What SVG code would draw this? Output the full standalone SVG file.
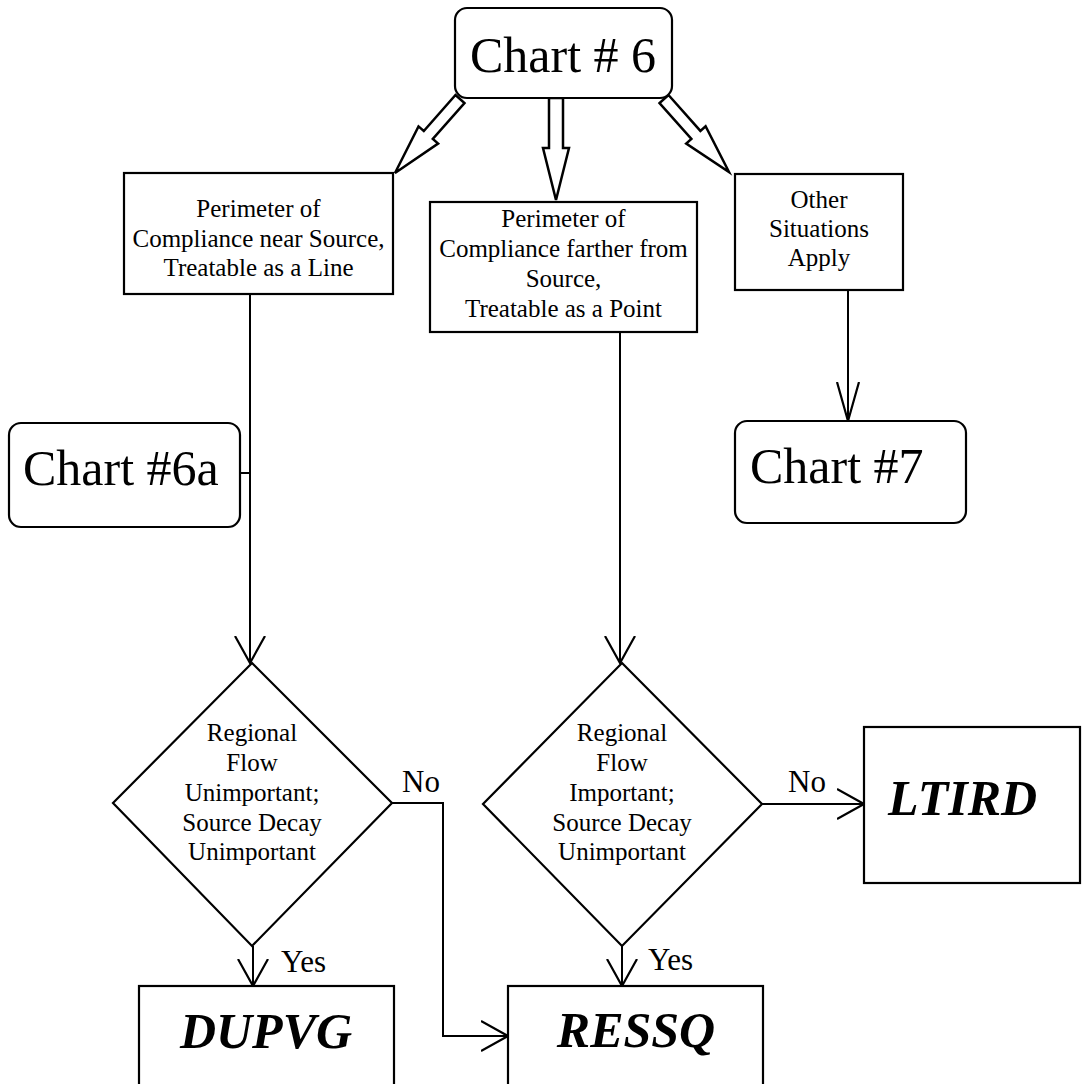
<svg xmlns="http://www.w3.org/2000/svg" width="1083" height="1084" viewBox="0 0 1083 1084">
<defs>
<style>
.box{fill:#fff;stroke:#000;stroke-width:2.2}
.blk{fill:#fff;stroke:#000;stroke-width:2.5;stroke-linejoin:miter}
.ln{fill:none;stroke:#000;stroke-width:2}
.t{font-family:"Liberation Serif","Times New Roman",serif;fill:#000}
.s25{font-size:25px;text-anchor:middle}
.s50{font-size:50px}
.s32{font-size:31px}
.bi{font-size:50px;font-weight:bold;font-style:italic}
</style>
<marker id="ah" markerUnits="userSpaceOnUse" viewBox="0 0 28 32" markerWidth="28" markerHeight="32" refX="27" refY="16" orient="auto">
<path d="M0,1 L27,16 L0,31" fill="none" stroke="#000" stroke-width="2.2"/>
</marker>
<marker id="ahn" markerUnits="userSpaceOnUse" viewBox="0 0 40 24" markerWidth="40" markerHeight="24" refX="39" refY="12" orient="auto">
<path d="M0,1 L39,12 L0,23" fill="none" stroke="#000" stroke-width="2.2"/>
</marker>
</defs>
<rect width="1083" height="1084" fill="#fff"/>

<g id="connectors">
<polygon class="blk" points="455.5,95 464.5,103 432.8,139 438.1,143.6 395,173 418.5,126.4 423.8,131"/>
<polygon class="blk" points="549,98 563,98 563,148 569,148 556,200 543,148 549,148"/>
<polygon class="blk" points="668.5,95 700.4,130.9 705.6,126.3 729,172 686.2,143.5 691.4,138.9 659.5,103"/>
<line class="ln" x1="250" y1="294" x2="250" y2="663" marker-end="url(#ah)"/>
<line class="ln" x1="240" y1="473" x2="250" y2="473"/>
<line class="ln" x1="620" y1="332" x2="620" y2="663" marker-end="url(#ah)"/>
<line class="ln" x1="848" y1="290" x2="848" y2="421" marker-end="url(#ahn)"/>
<line class="ln" x1="253" y1="946" x2="253" y2="986" marker-end="url(#ah)"/>
<line class="ln" x1="622" y1="946" x2="622" y2="986" marker-end="url(#ah)"/>
<polyline class="ln" points="392,803 443,803 443,1036 508,1036" marker-end="url(#ah)"/>
<line class="ln" x1="762" y1="804" x2="864" y2="804" marker-end="url(#ah)"/>
<text class="t s32" x="402" y="792">No</text>
<text class="t s32" x="788" y="792">No</text>
<text class="t s32" x="281" y="972">Yes</text>
<text class="t s32" x="648" y="970">Yes</text>
</g>

<g id="chart6">
<rect class="box" x="455" y="8" width="217" height="90" rx="12"/>
<text class="t s50" x="563" y="72" text-anchor="middle">Chart # 6</text>
</g>

<g id="line-box">
<rect class="box" x="124" y="173" width="269" height="121"/>
<text class="t s25" x="258.5" y="217">Perimeter of</text>
<text class="t s25" x="258.5" y="247">Compliance near Source,</text>
<text class="t s25" x="258.5" y="276">Treatable as a Line</text>
</g>

<g id="point-box">
<rect class="box" x="430" y="202" width="267" height="130"/>
<text class="t s25" x="563.5" y="227">Perimeter of</text>
<text class="t s25" x="563.5" y="257">Compliance farther from</text>
<text class="t s25" x="563.5" y="287">Source,</text>
<text class="t s25" x="563.5" y="317">Treatable as a Point</text>
</g>

<g id="other-box">
<rect class="box" x="735" y="174" width="168" height="116"/>
<text class="t s25" x="819" y="208">Other</text>
<text class="t s25" x="819" y="237">Situations</text>
<text class="t s25" x="819" y="266">Apply</text>
</g>

<g id="chart6a">
<rect class="box" x="9" y="423" width="231" height="104" rx="12"/>
<text class="t s50" x="23" y="485">Chart #6a</text>
</g>

<g id="chart7">
<rect class="box" x="735" y="421" width="231" height="102" rx="12"/>
<text class="t s50" x="750" y="483">Chart #7</text>
</g>

<g id="decision-left">
<polygon class="box" points="252,663 392,803 252,946 113,803"/>
<text class="t s25" x="252" y="741">Regional</text>
<text class="t s25" x="252" y="771">Flow</text>
<text class="t s25" x="252" y="801">Unimportant;</text>
<text class="t s25" x="252" y="831">Source Decay</text>
<text class="t s25" x="252" y="860">Unimportant</text>
</g>

<g id="decision-right">
<polygon class="box" points="622,663 762,804 622,946 483,804"/>
<text class="t s25" x="622" y="741">Regional</text>
<text class="t s25" x="622" y="771">Flow</text>
<text class="t s25" x="622" y="801">Important;</text>
<text class="t s25" x="622" y="831">Source Decay</text>
<text class="t s25" x="622" y="860">Unimportant</text>
</g>

<g id="ltird">
<rect class="box" x="864" y="727" width="216" height="156"/>
<text class="t bi" x="888" y="815">LTIRD</text>
</g>

<g id="dupvg">
<rect class="box" x="139" y="986" width="255" height="120"/>
<text class="t bi" x="266" y="1048" text-anchor="middle">DUPVG</text>
</g>

<g id="ressq">
<rect class="box" x="508" y="986" width="255" height="120"/>
<text class="t bi" x="636" y="1047" text-anchor="middle">RESSQ</text>
</g>
</svg>
